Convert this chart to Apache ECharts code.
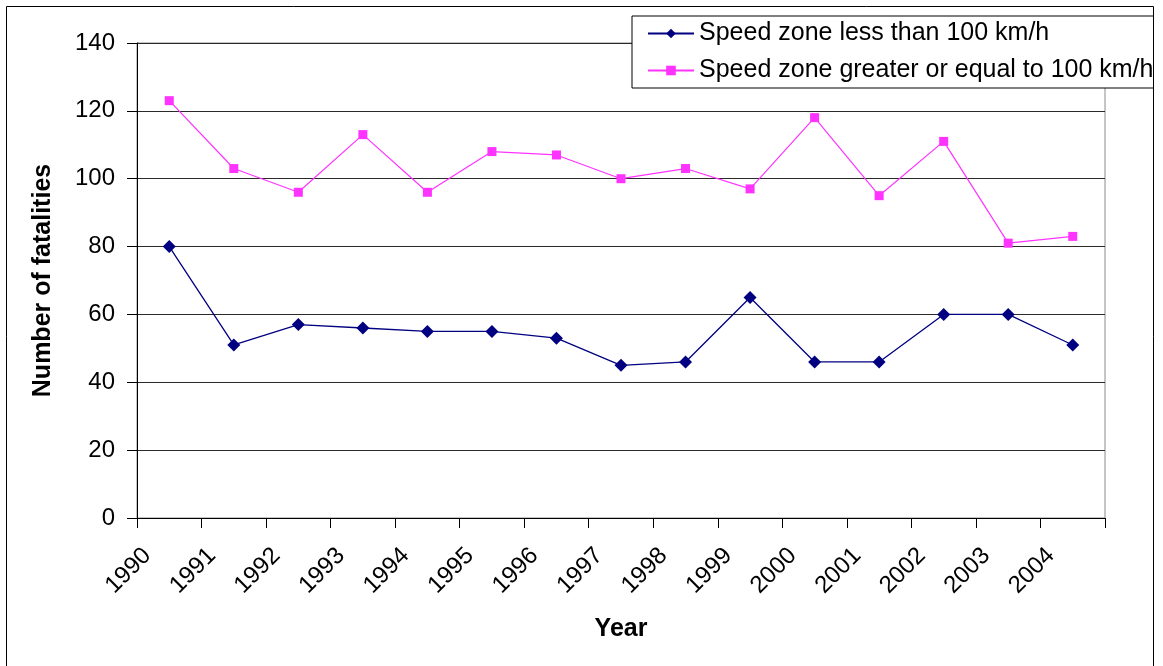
<!DOCTYPE html>
<html>
<head>
<meta charset="utf-8">
<script src="https://cdn.jsdelivr.net/npm/echarts@6/dist/echarts.min.js"></script>
<style>
html,body{margin:0;padding:0;background:#fff;}
#c{width:1163px;height:666px;}
</style>
</head>
<body>
<div id="c"></div>
<script>
const years = ['1990','1991','1992','1993','1994','1995','1996','1997','1998','1999','2000','2001','2002','2003','2004'];
const lessThan100 = [80, 51, 57, 56, 55, 55, 53, 45, 46, 65, 46, 46, 60, 60, 51];
const atLeast100 = [123, 103, 96, 113, 96, 108, 107, 100, 103, 97, 118, 95, 111, 81, 83];
const seriesNames = ['Speed zone less than 100 km/h', 'Speed zone greater or equal to 100 km/h'];
const yTicks = {min: 0, max: 140, interval: 20};

const font = 'Liberation Sans, Arial, sans-serif';
const chart = echarts.init(document.getElementById('c'), null, {renderer: 'canvas'});
chart.setOption({
  backgroundColor: '#fff',
  animation: false,
  grid: {left: 137, top: 43, width: 968, height: 475, show: true, borderColor: '#8a8a8a', borderWidth: 1, containLabel: false},
  legend: {
    orient: 'vertical', left: 632, top: 16,
    padding: [5, 20, 5, 15],
    itemWidth: 46, itemHeight: 12, itemGap: 12,
    backgroundColor: '#fff', borderColor: '#000', borderWidth: 1,
    textStyle: {fontFamily: font, fontSize: 25, color: '#000', lineHeight: 25},
    data: seriesNames,
    z: 10
  },
  xAxis: {
    type: 'category', data: years, boundaryGap: true,
    name: 'Year', nameLocation: 'middle', nameGap: 99,
    nameTextStyle: {fontFamily: font, fontSize: 25, fontWeight: 'bold', color: '#000'},
    axisLine: {lineStyle: {color: '#000', width: 1}},
    axisTick: {show: true, length: 10, lineStyle: {color: '#000'}},
    axisLabel: {rotate: 45, fontFamily: font, fontSize: 24, color: '#000', margin: 12, padding: [0, 31, 0, 0], interval: 0},
    splitLine: {show: false}
  },
  yAxis: {
    type: 'value', min: yTicks.min, max: yTicks.max, interval: yTicks.interval,
    name: 'Number of fatalities', nameLocation: 'middle', nameGap: 81, nameRotate: 90,
    nameTextStyle: {fontFamily: font, fontSize: 25, fontWeight: 'bold', color: '#000'},
    axisLine: {show: true, lineStyle: {color: '#000', width: 1}},
    axisTick: {show: true, length: 10, lineStyle: {color: '#000'}},
    axisLabel: {fontFamily: font, fontSize: 24, color: '#000', margin: 22},
    splitLine: {show: true, lineStyle: {color: '#2a2a2a', width: 1}}
  },
  series: [
    {
      name: seriesNames[0], type: 'line', data: lessThan100,
      symbol: 'diamond', symbolSize: 13, showAllSymbol: true,
      lineStyle: {color: '#000080', width: 1.3},
      itemStyle: {color: '#000080'},
      z: 3
    },
    {
      name: seriesNames[1], type: 'line', data: atLeast100,
      symbol: 'rect', symbolSize: 9, showAllSymbol: true,
      lineStyle: {color: '#ff33ff', width: 1.2},
      itemStyle: {color: '#ff33ff'},
      z: 3
    }
  ],
  graphic: [
    {type: 'rect', left: 1154, top: 0, shape: {width: 20, height: 666}, style: {fill: '#fff'}, z: 100},
    {type: 'rect', shape: {x: 6.5, y: 6.5, width: 1147, height: 700}, style: {fill: 'none', stroke: '#000', lineWidth: 1}, z: 101}
  ]
});
</script>
</body>
</html>
